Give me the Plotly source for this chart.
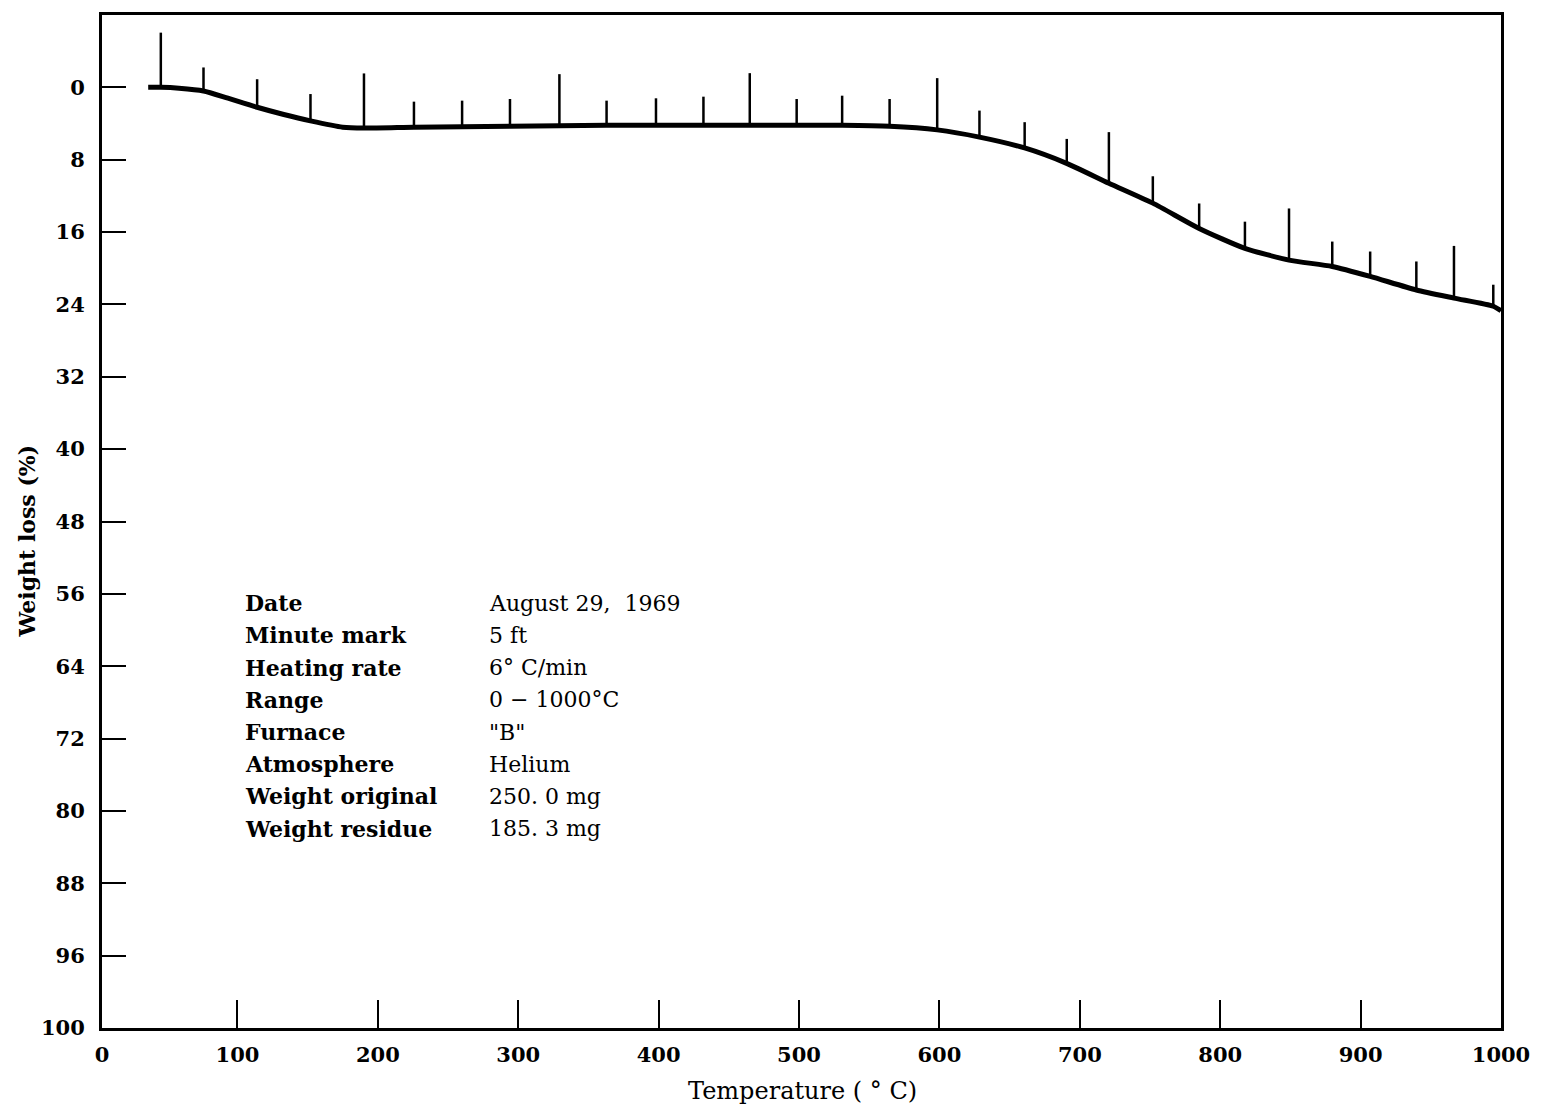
import plotly.graph_objects as go

# Curve: temperature (°C) vs weight loss (%)
curve_temp = [36.4, 45.4, 58.3, 75.8, 93.2, 114.0, 133.0, 152.0, 174.9, 190.1, 225.7, 260.0,
              294.1, 329.3, 362.9, 398.1, 431.9, 464.9, 498.3, 530.7, 564.5, 598.4, 628.5,
              660.7, 690.6, 720.7, 752.0, 785.0, 817.6, 849.0, 879.8, 906.8, 939.7, 966.5,
              994.5, 1000]
curve_loss = [0.0, 0.0, 0.1, 0.4, 1.2, 2.2, 3.0, 3.7, 4.4, 4.5, 4.4, 4.35,
              4.3, 4.25, 4.2, 4.2, 4.2, 4.2, 4.2, 4.2, 4.3, 4.7, 5.5,
              6.7, 8.4, 10.6, 12.8, 15.6, 17.8, 19.1, 19.8, 20.9, 22.4, 23.3,
              24.2, 24.7]

# Minute marks: temperature, base (on curve) and top of each mark
mark_temp = [45.4, 75.8, 114.0, 152.0, 190.1, 225.7, 260.0, 294.1, 329.3, 362.9, 398.1,
             431.9, 464.9, 498.3, 530.7, 564.5, 598.4, 628.5, 660.7, 690.7, 720.7, 752.0,
             785.0, 817.6, 849.0, 879.8, 906.8, 939.7, 966.5, 994.5]
mark_base = [0.0, 0.4, 2.2, 3.7, 4.5, 4.4, 4.35, 4.3, 4.25, 4.2, 4.2,
             4.2, 4.2, 4.2, 4.2, 4.3, 4.7, 5.5, 6.7, 8.4, 10.6, 12.8,
             15.6, 17.8, 19.1, 19.8, 20.9, 22.4, 23.3, 24.2]
mark_top = [-6.05, -2.2, -0.9, 0.74, -1.54, 1.58, 1.47, 1.29, -1.46, 1.47, 1.21,
            1.03, -1.57, 1.29, 0.92, 1.29, -1.02, 2.57, 3.85, 5.7, 4.95, 9.83,
            12.84, 14.85, 13.39, 17.05, 18.15, 19.25, 17.53, 21.82]

y_tickvals = [0, 8, 16, 24, 32, 40, 48, 56, 64, 72, 80, 88, 96, 104]
y_ticktext = ["0", "8", "16", "24", "32", "40", "48", "56", "64", "72", "80", "88", "96", "100"]
x_tickvals = [3.5, 100, 200, 300, 400, 500, 600, 700, 800, 900, 1000]
x_ticktext = ["0", "100", "200", "300", "400", "500", "600", "700", "800", "900", "1000"]

info_labels = ["Date", "Minute mark", "Heating rate", "Range", "Furnace", "Atmosphere",
               "Weight original", "Weight residue"]
info_values = ["August 29,  1969", "5 ft", "6° C/min", "0 − 1000°C", "\"B\"", "Helium",
               "250. 0 mg", "185. 3 mg"]

FONT = "DejaVu Serif"

mx, my = [], []
for t, b, tp in zip(mark_temp, mark_base, mark_top):
    mx += [t, t, None]
    my += [b, tp, None]

fig = go.Figure()
fig.add_trace(go.Scatter(x=mx, y=my, mode="lines", line=dict(color="black", width=2.5),
                         hoverinfo="skip", showlegend=False))
fig.add_trace(go.Scatter(x=curve_temp, y=curve_loss, mode="lines",
                         line=dict(color="black", width=5, shape="spline", smoothing=0.6),
                         showlegend=False))

axis_common = dict(showgrid=False, zeroline=False, showline=True, linecolor="black",
                   linewidth=3, mirror=True, ticks="inside", tickcolor="black", tickwidth=2,
                   tickfont=dict(family=FONT, size=21, color="black", weight="bold"))

fig.update_xaxes(range=[3.5, 1000], tickvals=x_tickvals, ticktext=x_ticktext, ticklen=28,
                 ticklabelstandoff=6, **axis_common)
fig.update_yaxes(range=[104, -8], tickvals=y_tickvals, ticktext=y_ticktext, ticklen=24,
                 ticklabelstandoff=10, **axis_common)

annotations = []
top_px = 1028
h_px = 1016
for i, (lab, val) in enumerate(zip(info_labels, info_values)):
    py = 602 + i * 32.3
    yp = (top_px - py) / h_px
    annotations.append(dict(text="<b>" + lab + "</b>", x=(243 - 102) / 1401, y=yp,
                            xref="paper", yref="paper", xanchor="left", yanchor="middle",
                            showarrow=False, font=dict(family=FONT, size=22, color="black")))
    annotations.append(dict(text=val, x=(488 - 102) / 1401, y=yp,
                            xref="paper", yref="paper", xanchor="left", yanchor="middle",
                            showarrow=False, font=dict(family=FONT, size=22, color="black")))

annotations.append(dict(text="Temperature ( ° C)", x=(804 - 102) / 1401, y=(1028 - 1091) / 1016,
                        xref="paper", yref="paper", xanchor="center", yanchor="middle",
                        showarrow=False, font=dict(family=FONT, size=24, color="black")))
annotations.append(dict(text="<b>Weight loss (%)</b>", x=(27 - 102) / 1401, y=(1028 - 540) / 1016,
                        xref="paper", yref="paper", xanchor="center", yanchor="middle",
                        textangle=-90, showarrow=False,
                        font=dict(family=FONT, size=22, color="black")))

fig.update_layout(width=1542, height=1109, margin=dict(l=102, r=39, t=12, b=81),
                  paper_bgcolor="white", plot_bgcolor="white", annotations=annotations,
                  showlegend=False)

fig.write_html("out.html")
